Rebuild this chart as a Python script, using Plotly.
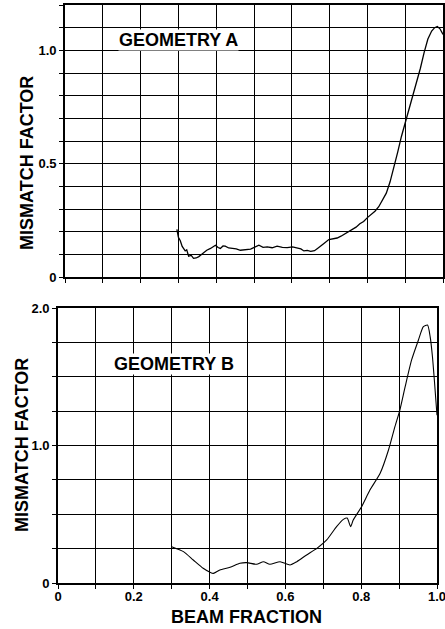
import plotly.graph_objects as go

# ---------------- data ----------------
# Geometry A (top panel)
xa = [0.296, 0.300, 0.305, 0.310, 0.318, 0.322, 0.327, 0.334, 0.340, 0.347, 0.354, 0.360,
      0.367, 0.375, 0.385, 0.392, 0.398, 0.405, 0.411, 0.418, 0.424, 0.433, 0.442, 0.453,
      0.464, 0.478, 0.491, 0.502, 0.513, 0.524, 0.535, 0.548, 0.561, 0.575, 0.588, 0.602,
      0.615, 0.624, 0.632, 0.641, 0.650, 0.660, 0.668, 0.677, 0.685, 0.698,
      0.710, 0.720, 0.730, 0.740, 0.750, 0.760, 0.770, 0.780, 0.790, 0.800, 0.810, 0.820,
      0.830, 0.840, 0.850, 0.860, 0.870, 0.880, 0.890, 0.900, 0.910, 0.920, 0.930, 0.940,
      0.950, 0.960, 0.970, 0.978, 0.985, 0.992, 1.000]
ya = [0.210, 0.175, 0.160, 0.135, 0.115, 0.120, 0.092, 0.095, 0.082, 0.084, 0.090, 0.098,
      0.111, 0.118, 0.126, 0.132, 0.140, 0.130, 0.126, 0.137, 0.136, 0.128, 0.126, 0.124,
      0.118, 0.121, 0.123, 0.132, 0.140, 0.131, 0.133, 0.129, 0.136, 0.131, 0.130, 0.133,
      0.128, 0.124, 0.115, 0.117, 0.113, 0.116, 0.126, 0.136, 0.148, 0.165,
      0.168, 0.172, 0.180, 0.190, 0.200, 0.212, 0.220, 0.235, 0.245, 0.262, 0.275, 0.290,
      0.310, 0.340, 0.370, 0.420, 0.480, 0.550, 0.620, 0.680, 0.740, 0.790, 0.860, 0.920,
      0.990, 1.050, 1.085, 1.100, 1.105, 1.095, 1.070]

# Geometry B (bottom panel)
xb = [0.300, 0.331, 0.357, 0.383, 0.400, 0.410, 0.427, 0.454, 0.480, 0.498, 0.524, 0.542,
      0.559, 0.586, 0.612, 0.630, 0.656, 0.683, 0.709, 0.735, 0.753, 0.763, 0.772, 0.779,
      0.801, 0.823, 0.850, 0.872, 0.889, 0.902, 0.916, 0.933, 0.951, 0.964, 0.975, 0.982,
      0.988, 0.993, 1.000]
yb = [0.264, 0.228, 0.167, 0.107, 0.080, 0.070, 0.095, 0.114, 0.143, 0.148, 0.136, 0.155,
      0.136, 0.155, 0.131, 0.155, 0.204, 0.252, 0.313, 0.410, 0.463, 0.472, 0.410, 0.458,
      0.555, 0.676, 0.798, 0.967, 1.137, 1.258, 1.428, 1.622, 1.767, 1.864, 1.876, 1.790,
      1.646, 1.476, 1.220]

# tick values / labels
x_grid = [0.0, 0.1, 0.2, 0.3, 0.4, 0.5, 0.6, 0.7, 0.8, 0.9, 1.0]
x_labels = ["0", "", "0.2", "", "0.4", "", "0.6", "", "0.8", "", "1.0"]
ya_grid = [0.0, 0.1, 0.2, 0.3, 0.4, 0.5, 0.6, 0.7, 0.8, 0.9, 1.0, 1.1, 1.2]
ya_labels = ["0", "", "", "", "", "0.5", "", "", "", "", "1.0", "", ""]
yb_grid = [0.0, 0.25, 0.5, 0.75, 1.0, 1.25, 1.5, 1.75, 2.0]
yb_labels = ["0", "", "", "", "1.0", "", "", "", "2.0"]

FONT = "Liberation Sans, Arial, sans-serif"

fig = go.Figure()
fig.add_trace(go.Scatter(x=xa, y=ya, mode="lines", xaxis="x", yaxis="y",
                         line=dict(color="black", width=1.3), showlegend=False))
fig.add_trace(go.Scatter(x=xb, y=yb, mode="lines", xaxis="x2", yaxis="y2",
                         line=dict(color="black", width=1.1, shape="spline", smoothing=0.6),
                         showlegend=False))

axis_common = dict(showline=True, mirror=True, linecolor="black", linewidth=1.6,
                   showgrid=True, gridcolor="black", gridwidth=1.3, zeroline=False,
                   ticks="outside", ticklen=4, tickcolor="black", tickwidth=1.2,
                   automargin=False, ticklabeloverflow="allow",
                   tickfont=dict(family=FONT, size=13, color="black", weight="bold"))

W, H = 445, 629
fig.update_layout(
    width=W, height=H,
    margin=dict(l=0, r=0, t=0, b=0, autoexpand=False),
    paper_bgcolor="white", plot_bgcolor="white",
    xaxis=dict(domain=[65 / W, 443 / W], range=[0, 1], anchor="y",
               tickmode="array", tickvals=x_grid, ticktext=[""] * len(x_grid),
               **axis_common),
    yaxis=dict(domain=[1 - 277 / H, 1 - 5 / H], range=[0, 1.2], anchor="x",
               tickmode="array", tickvals=ya_grid, ticktext=ya_labels,
               **axis_common),
    xaxis2=dict(domain=[58 / W, 437 / W], range=[0, 1], anchor="y2",
                tickmode="array", tickvals=x_grid, ticktext=x_labels,
                ticklabelstandoff=-3, **axis_common),
    yaxis2=dict(domain=[1 - 583 / H, 1 - 308 / H], range=[0, 2.0], anchor="x2",
                tickmode="array", tickvals=yb_grid, ticktext=yb_labels,
                **axis_common),
)

title_font = dict(family=FONT, size=18, color="black", weight="bold")
fig.add_annotation(x=118 / W, y=1 - 40 / H, xref="paper", yref="paper", text="GEOMETRY A",
                   showarrow=False, xanchor="left", yanchor="middle",
                   font=title_font, bgcolor="white", borderpad=0)
fig.add_annotation(x=113 / W, y=1 - 364 / H, xref="paper", yref="paper", text="GEOMETRY B",
                   showarrow=False, xanchor="left", yanchor="middle",
                   font=title_font, bgcolor="white", borderpad=0)
fig.add_annotation(x=27 / W, y=1 - 163 / H, xref="paper", yref="paper",
                   text="MISMATCH FACTOR", textangle=-90, showarrow=False,
                   xanchor="center", yanchor="middle", font=title_font)
fig.add_annotation(x=22 / W, y=1 - 445 / H, xref="paper", yref="paper",
                   text="MISMATCH FACTOR", textangle=-90, showarrow=False,
                   xanchor="center", yanchor="middle", font=title_font)
fig.add_annotation(x=246 / W, y=1 - 617 / H, xref="paper", yref="paper",
                   text="BEAM FRACTION", showarrow=False,
                   xanchor="center", yanchor="middle", font=title_font)

fig.write_html(
    "out.html",
    config={"displayModeBar": False},
    post_script="document.body.style.margin='0';document.body.style.padding='0';"
                "document.documentElement.style.overflow='hidden';",
)
